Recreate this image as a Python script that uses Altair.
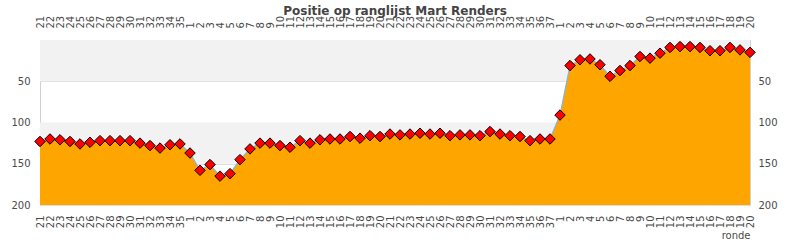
import json
import altair as alt
import pandas as pd

# round labels (three seasons)
rondes = ([str(r) for r in range(21, 36)]
          + [str(r) for r in range(1, 38)]
          + [str(r) for r in range(1, 21)])

# position on the ranking per round
posities = [123, 120, 121, 123, 126, 124, 122, 122, 122, 122, 125, 128, 131, 127, 126,
            137, 158, 151, 165, 162, 145, 132, 125, 125, 128, 130, 122, 125, 121, 120,
            120, 117, 119, 116, 117, 114, 115, 114, 113, 114, 113, 116, 115, 115, 116,
            111, 114, 116, 117, 122, 120, 120,
            91, 31, 24, 23, 30, 44, 37, 31, 20, 22, 16, 9, 8, 8, 9, 13, 13, 9, 12, 15]

band_lo = [0, 100]
band_hi = [50, 150]
y_ticks = [50, 100, 150, 200]

df = pd.DataFrame({"idx": list(range(len(posities))), "ronde": rondes, "pos": posities})
bands = pd.DataFrame({"lo": band_lo, "hi": band_hi})

label_expr = json.dumps(rondes) + "[datum.value]"
n = len(posities)
xscale = alt.Scale(domain=[0, n - 1], nice=False, zero=False)
yscale = alt.Scale(domain=[0, 200], reverse=True, nice=False, zero=False)

FONT = "DejaVu Sans"
LABEL_COLOR = "#4a4a4a"

x_bottom = alt.Axis(orient="bottom", values=list(range(n)), labelExpr=label_expr,
                    labelAngle=270, labelOverlap=False, labelFlush=False, labelBound=False,
                    ticks=False, domain=False, grid=False, labelPadding=10,
                    labelFontSize=10, labelFont=FONT, labelColor=LABEL_COLOR,
                    title="ronde", titleAnchor="end", titleFontWeight="normal",
                    titleFontSize=10, titleFont=FONT, titleColor=LABEL_COLOR, titlePadding=3)
x_top = alt.Axis(orient="top", values=list(range(n)), labelExpr=label_expr,
                 labelAngle=270, labelOverlap=False, labelFlush=False, labelBound=False,
                 ticks=False, domain=False, grid=False, labelPadding=12,
                 labelFontSize=10, labelFont=FONT, labelColor=LABEL_COLOR, title=None)
y_left = alt.Axis(orient="left", values=y_ticks, ticks=False, domain=False, grid=True,
                  gridColor="#dddddd", labelPadding=10, labelFontSize=10, labelFont=FONT,
                  labelColor=LABEL_COLOR, title=None)
y_right = alt.Axis(orient="right", values=y_ticks, ticks=False, domain=False, grid=False,
                   labelPadding=8, labelFontSize=10, labelFont=FONT,
                   labelColor=LABEL_COLOR, title=None)

band_layer = alt.Chart(bands).mark_rect(color="#f2f2f2").encode(
    y=alt.Y("lo:Q", scale=yscale, axis=None),
    y2="hi:Q",
)

area = alt.Chart(df).mark_area(color="#ffa500", opacity=1).encode(
    x=alt.X("idx:Q", scale=xscale, axis=x_bottom),
    y=alt.Y("pos:Q", scale=yscale, axis=y_left),
    y2=alt.datum(200),
)

line = alt.Chart(df).mark_line(color="#80b3e6", strokeWidth=1.2).encode(
    x=alt.X("idx:Q", scale=xscale, axis=None),
    y=alt.Y("pos:Q", scale=yscale, axis=None),
)

points = alt.Chart(df).mark_point(shape="diamond", filled=True, fill="#ff0000",
                                  stroke="#000000", strokeWidth=1, size=110,
                                  opacity=1).encode(
    x=alt.X("idx:Q", scale=xscale, axis=x_top),
    y=alt.Y("pos:Q", scale=yscale, axis=y_right),
)

chart = alt.layer(band_layer, area, line, points).resolve_axis(
    x="independent", y="independent"
).properties(
    width=710,
    height=165,
    autosize="none",
    padding={"left": 40, "top": 40, "right": 40, "bottom": 45},
    title=alt.Title("Positie op ranglijst Mart Renders", font=FONT, fontSize=12,
                    fontWeight="bold", color="#444444", anchor="middle", offset=0, dy=3),
).configure_view(stroke="#d0d0d0", strokeWidth=1)

chart.save("out.html", embed_options={"renderer": "svg", "actions": False})
